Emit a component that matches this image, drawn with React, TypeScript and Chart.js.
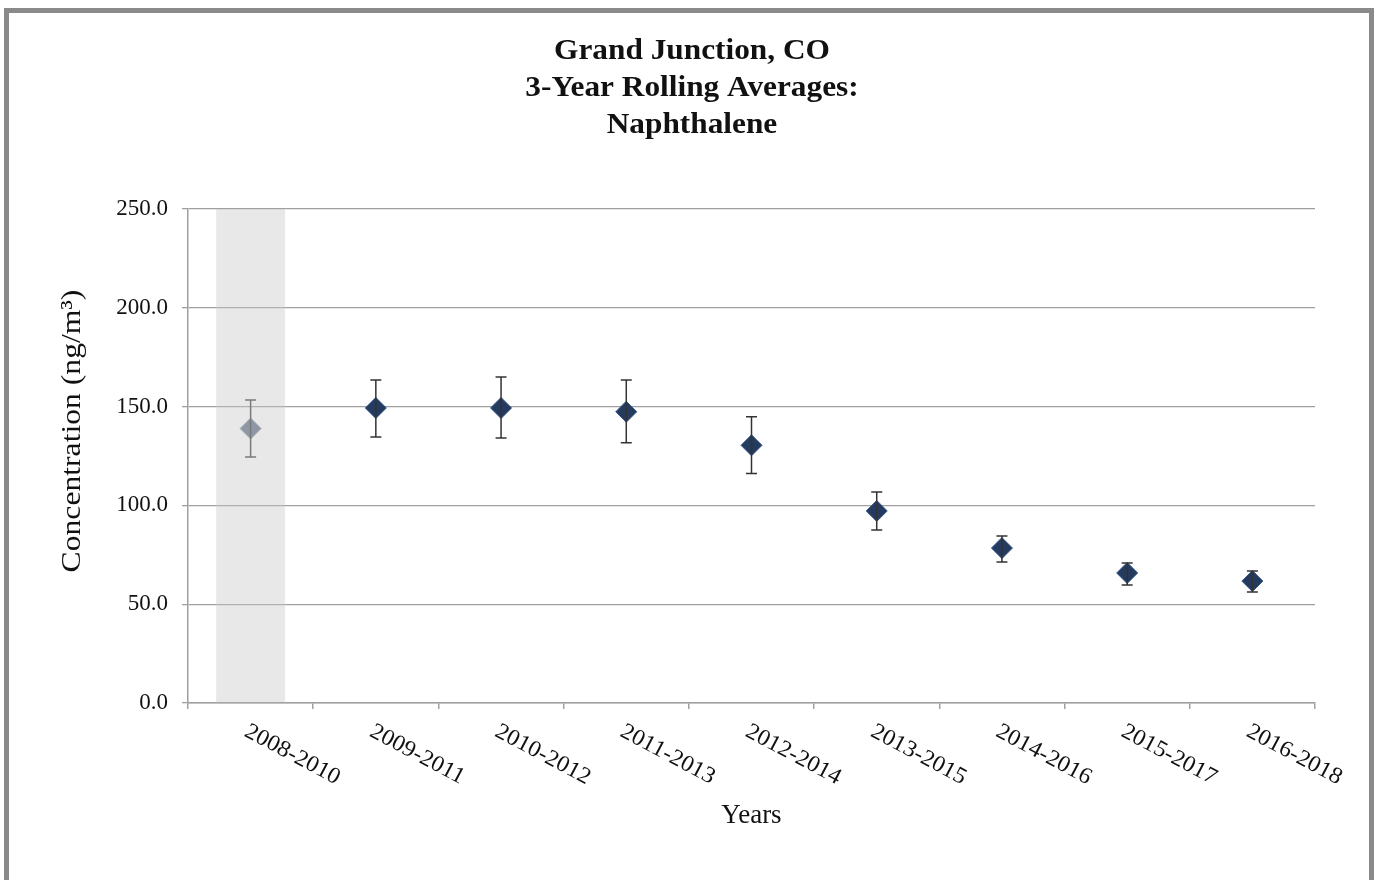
import React, { useEffect, useRef } from 'react';
import { Chart, registerables } from 'chart.js';

Chart.register(...registerables);

const categories = [
  '2008-2010', '2009-2011', '2010-2012', '2011-2013', '2012-2014',
  '2013-2015', '2014-2016', '2015-2017', '2016-2018',
];
const averages = [138.9, 149.3, 149.3, 147.4, 130.4, 97.2, 78.4, 65.8, 61.7];
const upperBounds = [153.3, 163.5, 165.0, 163.5, 144.9, 106.8, 84.5, 70.8, 66.8];
const lowerBounds = [124.5, 134.6, 134.1, 131.7, 116.2, 87.6, 71.4, 59.7, 56.2];
const shadedCategory = [250, null, null, null, null, null, null, null, null];
const incompleteFlags = [true, false, false, false, false, false, false, false, false];
const yMin = 0;
const yMax = 250;
const yStep = 50;
const titleLines = ['Grand Junction, CO', '3-Year Rolling Averages:', 'Naphthalene'];
const yTitle = 'Concentration (ng/m³)';
const xTitle = 'Years';

const SERIF = '"Liberation Serif", "Times New Roman", serif';
const DARK = '#243a5e';
const DARK_EDGE = '#34558a';
const GREY = '#8f97a4';
const GREY_EDGE = '#a3abb8';

function stretchedText(ctx: CanvasRenderingContext2D, text: string, x: number, y: number, sx: number) {
  ctx.save();
  ctx.translate(x, y);
  ctx.scale(sx, 1);
  ctx.fillText(text, 0, 0);
  ctx.restore();
}

export default function App() {
  const canvasRef = useRef<HTMLCanvasElement | null>(null);

  useEffect(() => {
    const canvas = canvasRef.current;
    if (!canvas) return;

    const overlay = {
      id: 'overlay',
      afterDatasetsDraw(chart: any) {
        const ctx = chart.ctx;
        const xs = chart.scales.x;
        const ys = chart.scales.y;
        ctx.save();
        for (let i = 0; i < categories.length; i++) {
          const x = xs.getPixelForValue(i);
          const yt = ys.getPixelForValue(upperBounds[i]);
          const yb = ys.getPixelForValue(lowerBounds[i]);
          ctx.strokeStyle = incompleteFlags[i] ? '#7a7a7a' : '#333333';
          ctx.lineWidth = 1.5;
          ctx.beginPath();
          ctx.moveTo(x, yt);
          ctx.lineTo(x, yb);
          ctx.moveTo(x - 5.5, yt);
          ctx.lineTo(x + 5.5, yt);
          ctx.moveTo(x - 5.5, yb);
          ctx.lineTo(x + 5.5, yb);
          ctx.stroke();
        }
        ctx.restore();
      },
      afterDraw(chart: any) {
        const ctx = chart.ctx;
        const xs = chart.scales.x;
        const area = chart.chartArea;
        ctx.save();
        ctx.fillStyle = '#111111';
        // title
        ctx.font = `bold 29px ${SERIF}`;
        ctx.textAlign = 'center';
        ctx.textBaseline = 'middle';
        titleLines.forEach((t, i) => stretchedText(ctx, t, 692, 52 + i * 37, 1.08));
        // x tick labels, rotated clockwise
        ctx.font = `23px ${SERIF}`;
        ctx.textAlign = 'left';
        ctx.textBaseline = 'top';
        const ang = (28 * Math.PI) / 180;
        categories.forEach((c, i) => {
          const x = xs.getPixelForValue(i);
          ctx.save();
          ctx.translate(x + 1, area.bottom + 17);
          ctx.rotate(ang);
          ctx.scale(1.05, 1);
          ctx.fillText(c, 0, 0);
          ctx.restore();
        });
        // x title
        ctx.font = `27px ${SERIF}`;
        ctx.textAlign = 'center';
        ctx.textBaseline = 'middle';
        ctx.fillText(xTitle, (area.left + area.right) / 2, 816);
        // y title
        ctx.save();
        ctx.translate(73, 431);
        ctx.rotate(-Math.PI / 2);
        ctx.font = `28px ${SERIF}`;
        stretchedText(ctx, yTitle, 0, 0, 1.13);
        ctx.restore();
        ctx.restore();
      },
    };

    const chart = new Chart(canvas, {
      data: {
        labels: categories,
        datasets: [
          {
            type: 'line' as const,
            data: averages,
            showLine: false,
            pointStyle: 'rectRot',
            pointRadius: 10.5,
            pointBorderWidth: 1,
            pointBackgroundColor: incompleteFlags.map((f) => (f ? GREY : DARK)),
            pointBorderColor: incompleteFlags.map((f) => (f ? GREY_EDGE : DARK_EDGE)),
            order: 0,
          },
          {
            type: 'bar' as const,
            data: shadedCategory as any,
            backgroundColor: 'rgba(200,200,200,0.42)',
            borderWidth: 0,
            barPercentage: 0.55,
            categoryPercentage: 1,
            order: 1,
          },
        ],
      },
      options: {
        animation: false,
        responsive: false,
        maintainAspectRatio: false,
        events: [],
        layout: { padding: { top: 209, right: 59, bottom: 0, left: 0 } },
        plugins: {
          legend: { display: false },
          tooltip: { enabled: false },
          title: { display: false },
        },
        scales: {
          x: {
            type: 'category',
            offset: true,
            grid: {
              offset: true,
              drawOnChartArea: false,
              drawTicks: true,
              tickLength: 6,
              color: '#a0a0a0',
              lineWidth: 1.5,
            },
            border: { display: true, color: '#a0a0a0', width: 1.5 },
            ticks: { display: false },
            afterFit(scale: any) {
              scale.height = 177;
            },
          },
          y: {
            min: yMin,
            max: yMax,
            ticks: {
              stepSize: yStep,
              padding: 14,
              color: '#111111',
              font: { family: SERIF, size: 23 },
              callback: (v: any) => Number(v).toFixed(1),
            },
            grid: {
              color: '#a0a0a0',
              lineWidth: 1.3,
              tickLength: 6,
            },
            border: { display: true, color: '#a0a0a0', width: 1.5 },
            afterFit(scale: any) {
              scale.width = 188;
            },
          },
        },
      },
      plugins: [overlay],
    } as any);

    return () => chart.destroy();
  }, []);

  return (
    <div style={{ position: 'absolute', left: 0, top: 0, width: 1374, height: 880, background: '#ffffff', overflow: 'hidden' }}>
      <canvas ref={canvasRef} width={1374} height={880} style={{ position: 'absolute', left: 0, top: 0 }} />
      <div
        style={{
          position: 'absolute',
          left: 4,
          top: 8,
          width: 1370,
          height: 880,
          border: '5px solid #8a8a8a',
          boxSizing: 'border-box',
          pointerEvents: 'none',
        }}
      />
    </div>
  );
}
